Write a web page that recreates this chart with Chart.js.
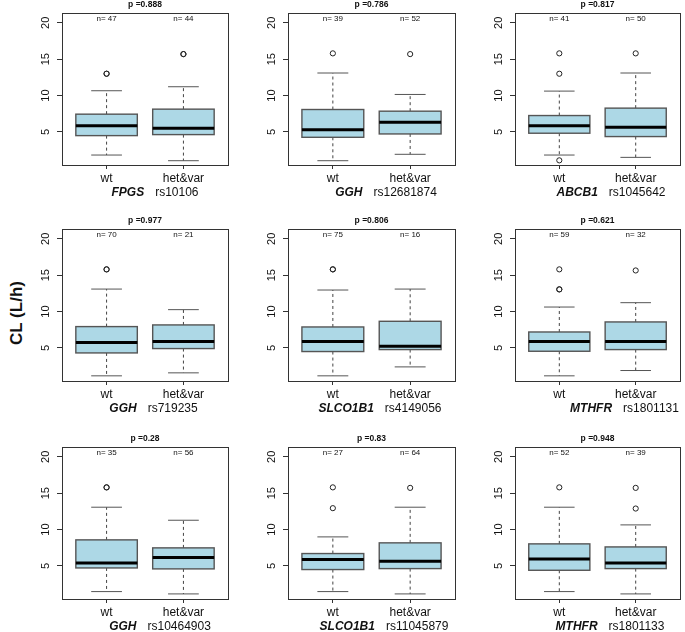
<!DOCTYPE html>
<html>
<head>
<meta charset="utf-8">
<script src="https://cdn.jsdelivr.net/npm/chart.js@4.4.1/dist/chart.umd.min.js"></script>
<style>
  body { margin: 0; background: #fff; width: 685px; height: 632px; position: relative; overflow: hidden; font-family: "Liberation Sans", Arial, sans-serif; }
  canvas { position: absolute; }
  #ylab { position: absolute; left: 17px; top: 313px; transform: translate(-50%, -50%) rotate(-90deg); font-weight: bold; font-size: 17px; white-space: nowrap; color: #111; }
</style>
</head>
<body>
<div id="ylab">CL (L/h)</div>
<script>
// ---- data ----
const genes = ['FPGS', 'GGH', 'ABCB1', 'GGH', 'SLCO1B1', 'MTHFR', 'GGH', 'SLCO1B1', 'MTHFR'];
const snps = ['rs10106', 'rs12681874', 'rs1045642', 'rs719235', 'rs4149056', 'rs1801131', 'rs10464903', 'rs11045879', 'rs1801133'];
const pValues = ['0.888', '0.786', '0.817', '0.977', '0.806', '0.621', '0.28', '0.83', '0.948'];
const groups = ['wt', 'het&var'];
const nWt = [47, 39, 41, 70, 75, 59, 35, 27, 52];
const nVar = [44, 52, 50, 21, 16, 32, 56, 64, 39];
// [lower whisker, Q1, median, Q3, upper whisker]
const wtStats = [
  [1.82, 4.49, 5.83, 7.44, 10.66],
  [1.04, 4.26, 5.28, 8.08, 13.10],
  [1.82, 4.82, 5.83, 7.25, 10.61],
  [1.16, 4.31, 5.73, 7.93, 13.09],
  [1.16, 4.50, 5.87, 7.88, 12.96],
  [1.16, 4.54, 5.87, 7.19, 10.62],
  [1.47, 4.72, 5.41, 8.58, 13.07],
  [1.47, 4.50, 5.87, 6.70, 8.99],
  [1.47, 4.40, 5.96, 8.03, 13.07]
];
const varStats = [
  [1.04, 4.63, 5.51, 8.13, 11.21],
  [1.92, 4.72, 6.33, 7.85, 10.15],
  [1.50, 4.36, 5.64, 8.27, 13.10],
  [1.57, 4.91, 5.87, 8.16, 10.26],
  [2.39, 4.77, 5.23, 8.66, 13.09],
  [1.89, 4.77, 5.87, 8.57, 11.22],
  [1.15, 4.59, 6.15, 7.48, 11.28],
  [1.15, 4.63, 5.64, 8.17, 13.07],
  [1.15, 4.63, 5.41, 7.61, 10.64]
];
const wtOutliers = [[13.0, 13.0], [15.8], [15.8, 13.0, 1.09], [15.8, 15.8], [15.8, 15.8], [15.8, 13.05, 13.05], [15.8, 15.8], [15.8, 12.94], [15.8]];
const varOutliers = [[15.7, 15.7], [15.7], [15.8], [], [], [15.65], [], [15.73], [15.73, 12.89]];
const yTicks = [5, 10, 15, 20];

// ---- layout ----
const colLeft = [62, 288, 515];
const colWidth = [170, 171, 169];
const rowTop = [13, 229, 447];
const plotH = 152;
const labelCenter = [155, 386, 611, 153.5, 380, 624.5, 160, 384, 610];
const FONT = '"Liberation Sans", Arial, sans-serif';

const boxPlugin = {
  id: 'boxes',
  beforeDatasetsDraw(chart, args, opts) {
    const { ctx, chartArea: a, scales: { x, y } } = chart;
    const p = opts.panel;
    const half = x.getPixelForValue(1.4) - x.getPixelForValue(1);
    const line = (x1, y1, x2, y2) => { ctx.beginPath(); ctx.moveTo(x1, y1); ctx.lineTo(x2, y2); ctx.stroke(); };
    [wtStats[p], varStats[p]].forEach((s, i) => {
      const cx = x.getPixelForValue(i + 1);
      const [lo, q1, med, q3, hi] = s.map(v => y.getPixelForValue(v));
      ctx.save();
      ctx.lineWidth = 1;
      ctx.strokeStyle = '#444';
      ctx.setLineDash([3, 3]);
      line(cx, q3, cx, hi);
      line(cx, q1, cx, lo);
      ctx.setLineDash([]);
      ctx.strokeStyle = '#555';
      line(cx - half / 2, hi, cx + half / 2, hi);
      line(cx - half / 2, lo, cx + half / 2, lo);
      ctx.fillStyle = '#ADD8E6';
      ctx.fillRect(cx - half, q3, half * 2, q1 - q3);
      ctx.lineWidth = 1.4;
      ctx.strokeStyle = '#555';
      ctx.strokeRect(cx - half, q3, half * 2, q1 - q3);
      ctx.lineWidth = 3;
      ctx.strokeStyle = '#000';
      line(cx - half, med, cx + half, med);
      ctx.restore();
    });
  },
  afterDraw(chart, args, opts) {
    const { ctx, chartArea: a, scales: { x, y } } = chart;
    const p = opts.panel;
    ctx.save();
    // frame
    ctx.strokeStyle = '#333';
    ctx.lineWidth = 1;
    ctx.strokeRect(Math.round(a.left) + 0.5, Math.round(a.top) + 0.5, Math.round(a.width), Math.round(a.height));
    ctx.fillStyle = '#111';
    // y tick labels, rotated like R
    ctx.font = '11px ' + FONT;
    ctx.textAlign = 'center';
    ctx.textBaseline = 'middle';
    yTicks.forEach(t => {
      ctx.save();
      ctx.translate(a.left - 16, y.getPixelForValue(t));
      ctx.rotate(-Math.PI / 2);
      ctx.fillText(String(t), 0, 0);
      ctx.restore();
    });
    // p value title
    ctx.font = 'bold 8.5px ' + FONT;
    ctx.fillText('p =' + pValues[p], (a.left + a.right) / 2, a.top - 8.5);
    // n labels
    ctx.font = '8px ' + FONT;
    ctx.fillText('n= ' + nWt[p], x.getPixelForValue(1), a.top + 6);
    ctx.fillText('n= ' + nVar[p], x.getPixelForValue(2), a.top + 6);
    // gene + snp label
    const gap = 11;
    ctx.font = 'italic bold 12px ' + FONT;
    const wg = ctx.measureText(genes[p]).width;
    ctx.font = '12px ' + FONT;
    const wr = ctx.measureText(snps[p]).width;
    const start = labelCenter[p] - opts.offsetX - (wg + gap + wr) / 2;
    ctx.textAlign = 'left';
    ctx.font = 'italic bold 12px ' + FONT;
    ctx.fillText(genes[p], start, a.bottom + 28);
    ctx.font = '12px ' + FONT;
    ctx.fillText(snps[p], start + wg + gap, a.bottom + 28);
    ctx.restore();
  }
};

for (let p = 0; p < 9; p++) {
  const r = Math.floor(p / 3), c = p % 3;
  const canvas = document.createElement('canvas');
  const left = colLeft[c] - 62, top = rowTop[r] - 13;
  const w = 62 + colWidth[c] + 1, h = 13 + plotH + 45;
  canvas.width = w; canvas.height = h;
  canvas.style.left = left + 'px';
  canvas.style.top = top + 'px';
  canvas.style.width = w + 'px';
  canvas.style.height = h + 'px';
  document.body.appendChild(canvas);

  const points = [];
  wtOutliers[p].forEach(v => points.push({ x: 1, y: v }));
  varOutliers[p].forEach(v => points.push({ x: 2, y: v }));

  new Chart(canvas, {
    type: 'scatter',
    data: {
      datasets: [{
        data: points,
        pointRadius: 2.6,
        pointBorderWidth: 1,
        pointBorderColor: '#222',
        pointBackgroundColor: 'rgba(0,0,0,0)'
      }]
    },
    options: {
      responsive: false,
      animation: false,
      devicePixelRatio: 1,
      layout: { padding: { top: 13, right: 1, left: 0, bottom: 0 } },
      plugins: {
        legend: { display: false },
        tooltip: { enabled: false },
        boxes: { panel: p, offsetX: left }
      },
      scales: {
        x: {
          type: 'linear',
          min: 0.42,
          max: 2.58,
          afterBuildTicks: s => { s.ticks = [{ value: 1 }, { value: 2 }]; },
          afterFit: s => { s.height = 45; },
          ticks: {
            callback: v => groups[v - 1],
            font: { size: 12, family: FONT },
            color: '#111',
            padding: 2,
            maxRotation: 0
          },
          grid: { drawOnChartArea: false, tickLength: 4, color: '#333' },
          border: { display: false }
        },
        y: {
          min: 0.45,
          max: 21.35,
          afterBuildTicks: s => { s.ticks = yTicks.map(v => ({ value: v })); },
          afterFit: s => { s.width = 62; },
          ticks: { display: false },
          grid: { drawOnChartArea: false, tickLength: 5, color: '#333' },
          border: { display: false }
        }
      }
    },
    plugins: [boxPlugin]
  });
}
</script>
</body>
</html>
